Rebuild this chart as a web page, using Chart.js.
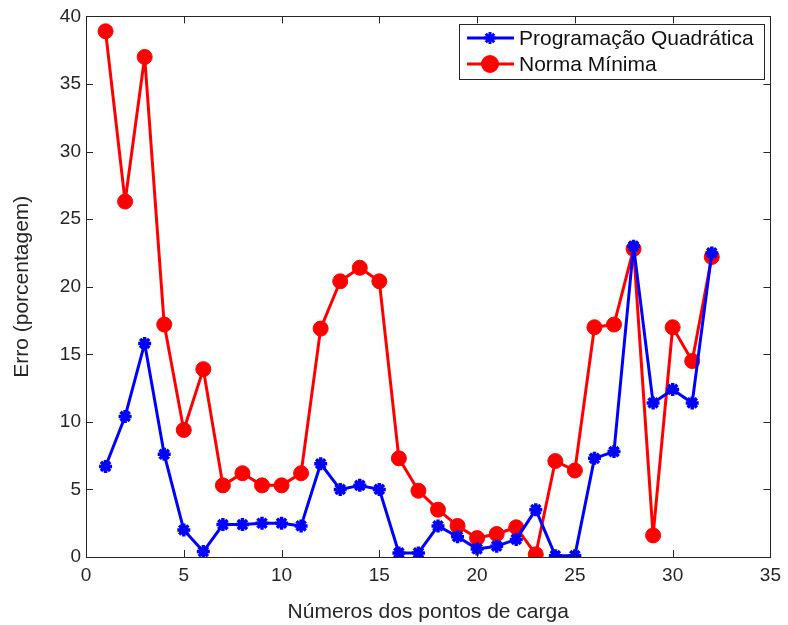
<!DOCTYPE html>
<html>
<head>
<meta charset="utf-8">
<script src="https://cdn.jsdelivr.net/npm/chart.js@4.4.1/dist/chart.umd.min.js"></script>
<style>
  html, body { margin: 0; padding: 0; background: #fff; }
  #wrap { width: 788px; height: 625px; }
</style>
</head>
<body>
<div id="wrap"><canvas id="erroChart" width="788" height="625"></canvas></div>
<script>
// pontos de carga 1..32
const pontos = [1,2,3,4,5,6,7,8,9,10,11,12,13,14,15,16,17,18,19,20,21,22,23,24,25,26,27,28,29,30,31,32];

// erro (%) - programação quadrática
const erroQuadratica = [6.7,10.4,15.8,7.6,2.0,0.4,2.4,2.4,2.5,2.5,2.3,6.9,5.0,5.3,5.0,0.3,
                        0.3,2.3,1.5,0.6,0.8,1.3,3.5,0.1,0.1,7.3,7.8,23.0,11.4,12.4,11.4,22.5];

// erro (%) - norma mínima
const erroNormaMinima = [38.9,26.3,37.0,17.2,9.4,13.9,5.3,6.2,5.3,5.3,6.2,16.9,20.4,21.4,20.4,7.3,
                         4.9,3.5,2.3,1.4,1.7,2.2,0.2,7.1,6.4,17.0,17.2,22.8,1.6,17.0,14.5,22.2];

const xTicks = [0,5,10,15,20,25,30,35];
const yTicks = [0,5,10,15,20,25,30,35,40];

const FONT = "'Liberation Sans', Arial, sans-serif";
const AZUL = '#0000ff';
const VERMELHO = '#ff0000';

// caixa em volta do gráfico com marcas para dentro nos 4 lados
const moldura = {
    id: 'moldura',
    afterDraw(chart) {
        const { ctx, chartArea: a, scales } = chart;
        ctx.save();
        ctx.strokeStyle = '#262626';
        ctx.lineWidth = 1;
        ctx.beginPath();
        xTicks.forEach(v => {
            const x = Math.round(scales.x.getPixelForValue(v)) + 0.5;
            ctx.moveTo(x, a.bottom); ctx.lineTo(x, a.bottom - 7);
            ctx.moveTo(x, a.top); ctx.lineTo(x, a.top + 7);
        });
        yTicks.forEach(v => {
            const y = Math.round(scales.y.getPixelForValue(v)) + 0.5;
            ctx.moveTo(a.left, y); ctx.lineTo(a.left + 7, y);
            ctx.moveTo(a.right, y); ctx.lineTo(a.right - 7, y);
        });
        ctx.stroke();
        ctx.strokeRect(Math.round(a.left) + 0.5, Math.round(a.top) + 0.5,
                       Math.round(a.right - a.left), Math.round(a.bottom - a.top));
        ctx.restore();
    }
};

// legenda no canto superior direito, dentro da área do gráfico
const legendaCaixa = {
    id: 'legendaCaixa',
    afterDraw(chart) {
        const { ctx, chartArea: a } = chart;
        const w = 305, h = 55;
        const x0 = Math.round(a.right) - 6 - w, y0 = Math.round(a.top) + 8;
        ctx.save();
        ctx.fillStyle = '#fff';
        ctx.fillRect(x0, y0, w, h);
        ctx.strokeStyle = '#262626';
        ctx.lineWidth = 1;
        ctx.strokeRect(x0 + 0.5, y0 + 0.5, w, h);
        const itens = [
            { label: 'Programação Quadrática', cor: AZUL, estilo: 'star', r: 6 },
            { label: 'Norma Mínima', cor: VERMELHO, estilo: 'circle', r: 7.5 }
        ];
        itens.forEach((it, i) => {
            const y = y0 + 14 + i * 26;
            ctx.strokeStyle = it.cor;
            ctx.lineWidth = 3;
            ctx.beginPath();
            ctx.moveTo(x0 + 8, y); ctx.lineTo(x0 + 55, y);
            ctx.stroke();
            ctx.fillStyle = it.cor;
            Chart.helpers.drawPoint(ctx, { pointStyle: it.estilo, radius: it.r, borderWidth: 3, rotation: 0 }, x0 + 31, y);
            ctx.fillStyle = '#111';
            ctx.font = '21px ' + FONT;
            ctx.textBaseline = 'middle';
            ctx.fillText(it.label, x0 + 60, y + 1);
        });
        ctx.restore();
    }
};

new Chart(document.getElementById('erroChart'), {
    type: 'line',
    data: {
        labels: pontos,
        datasets: [
            {
                label: 'Programação Quadrática',
                data: pontos.map((p, i) => ({ x: p, y: erroQuadratica[i] })),
                borderColor: AZUL,
                backgroundColor: AZUL,
                borderWidth: 3,
                borderJoinStyle: 'round',
                pointStyle: 'star',
                pointRadius: 6.5,
                pointBorderWidth: 3.5,
                tension: 0
            },
            {
                label: 'Norma Mínima',
                data: pontos.map((p, i) => ({ x: p, y: erroNormaMinima[i] })),
                borderColor: VERMELHO,
                backgroundColor: VERMELHO,
                borderWidth: 3,
                borderJoinStyle: 'round',
                pointStyle: 'circle',
                pointRadius: 7.5,
                pointBorderWidth: 1,
                tension: 0
            }
        ]
    },
    options: {
        responsive: false,
        animation: false,
        devicePixelRatio: 1,
        layout: { padding: { top: 2, right: 15, left: 0, bottom: 0 } },
        plugins: {
            legend: { display: false },
            tooltip: { enabled: false }
        },
        scales: {
            x: {
                type: 'linear',
                min: 0, max: 35,
                afterBuildTicks: s => { s.ticks = xTicks.map(v => ({ value: v })); },
                afterFit: s => { s.height = 68; },
                grid: { display: false, drawTicks: false },
                border: { display: false },
                ticks: { padding: 7, color: '#262626', font: { family: FONT, size: 19 } },
                title: {
                    display: true,
                    text: 'Números dos pontos de carga',
                    color: '#262626',
                    font: { family: FONT, size: 21 },
                    padding: { top: 0, bottom: 0 }
                }
            },
            y: {
                min: 0, max: 40,
                afterBuildTicks: s => { s.ticks = yTicks.map(v => ({ value: v })); },
                afterFit: s => { s.width = 86; },
                grid: { display: false, drawTicks: false },
                border: { display: false },
                ticks: { padding: 5, color: '#262626', font: { family: FONT, size: 19 } },
                title: {
                    display: true,
                    text: 'Erro (porcentagem)',
                    color: '#262626',
                    font: { family: FONT, size: 21 },
                    padding: { top: 10, bottom: 0 }
                }
            }
        }
    },
    plugins: [moldura, legendaCaixa]
});
</script>
</body>
</html>
